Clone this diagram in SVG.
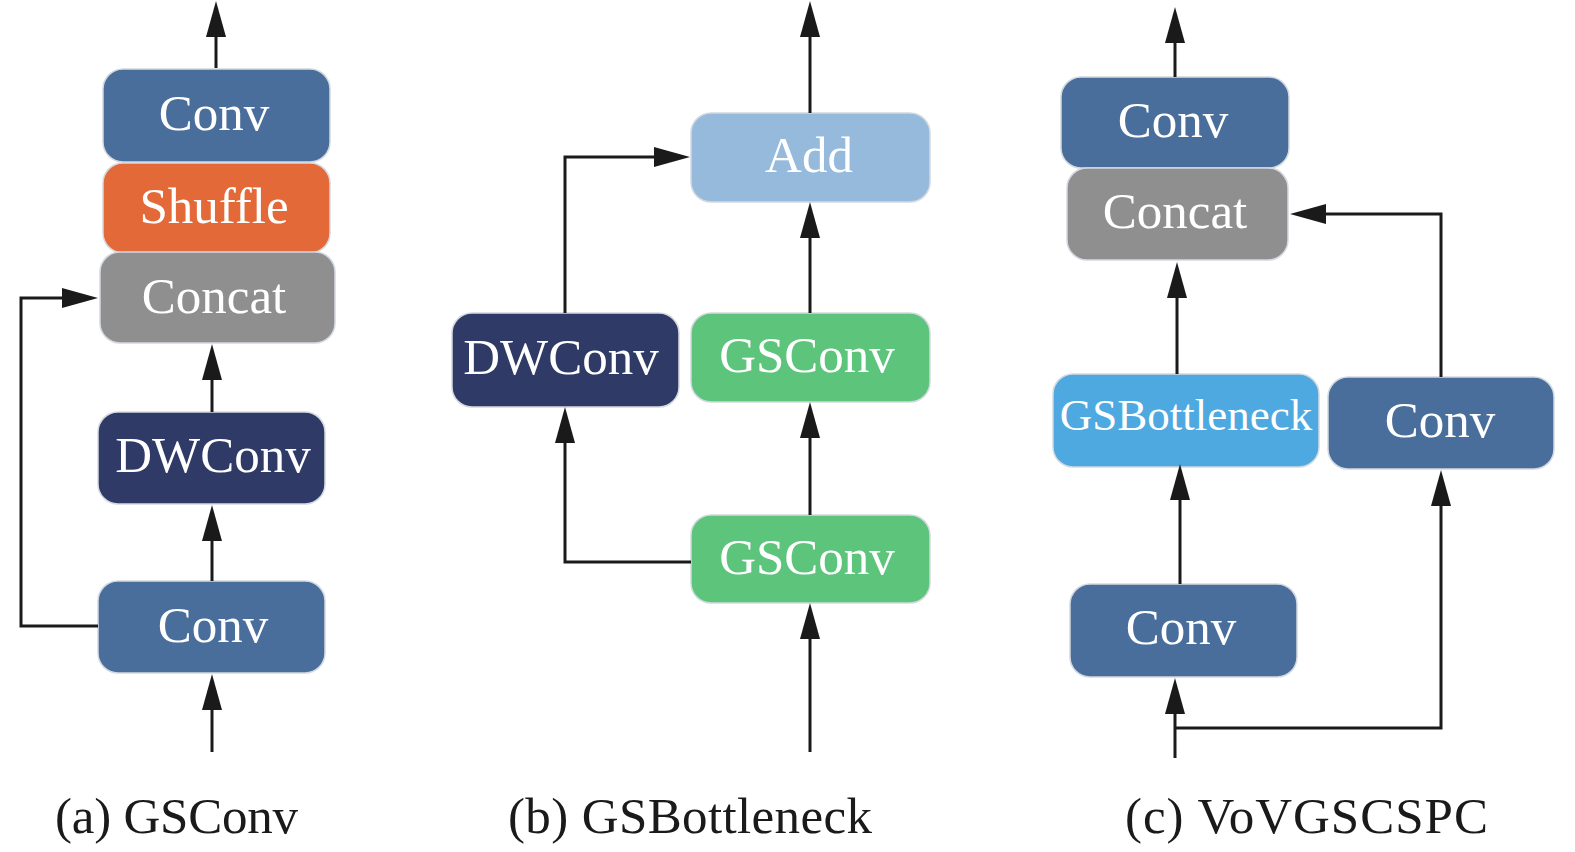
<svg xmlns="http://www.w3.org/2000/svg" width="1575" height="852" viewBox="0 0 1575 852">
<style>
.box{stroke:#d3d9e0;stroke-width:1.5}
.conv{fill:#4a6e9b}
.shuffle{fill:#e36a38}
.concat{fill:#908f90}
.dw{fill:#2f3a66}
.add{fill:#95badc}
.gs{fill:#5cc47b}
.gsb{fill:#4ea9e0}
.lbl{font-family:"Liberation Serif","Times New Roman",serif;font-size:51px;fill:#ffffff;text-anchor:middle}
.cap{font-family:"Liberation Serif","Times New Roman",serif;font-size:51px;fill:#1a1a1a}
.wire{fill:none;stroke:#1a1a1a;stroke-width:3;marker-end:url(#arr)}
</style>
<defs>
<marker id="arr" markerUnits="userSpaceOnUse" markerWidth="36" markerHeight="20" refX="0" refY="10" orient="auto" overflow="visible">
<path d="M0,0 L36,10 L0,20 z" fill="#1a1a1a"/>
</marker>
</defs>
<rect width="1575" height="852" fill="#ffffff"/>

<g id="a_conv_top"><rect class="box conv" x="103" y="69" width="227" height="93" rx="20"/><text class="lbl" x="214" y="130">Conv</text></g>
<g id="a_shuffle"><rect class="box shuffle" x="103" y="163" width="227" height="90" rx="20"/><text class="lbl" x="214" y="223">Shuffle</text></g>
<g id="a_concat"><rect class="box concat" x="100" y="252" width="235" height="91" rx="20"/><text class="lbl" x="214" y="313">Concat</text></g>
<g id="a_dwconv"><rect class="box dw" x="98" y="412" width="227" height="92" rx="20"/><text class="lbl" x="213" y="472">DWConv</text></g>
<g id="a_conv_bot"><rect class="box conv" x="98" y="581" width="227" height="92" rx="20"/><text class="lbl" x="213" y="642">Conv</text></g>

<g id="b_add"><rect class="box add" x="691" y="113" width="239" height="89" rx="20"/><text class="lbl" x="809" y="172">Add</text></g>
<g id="b_dwconv"><rect class="box dw" x="452" y="313" width="227" height="94" rx="20"/><text class="lbl" x="561" y="374">DWConv</text></g>
<g id="b_gsconv1"><rect class="box gs" x="691" y="313" width="239" height="89" rx="20"/><text class="lbl" x="807" y="372">GSConv</text></g>
<g id="b_gsconv2"><rect class="box gs" x="691" y="515" width="239" height="88" rx="20"/><text class="lbl" x="807" y="574">GSConv</text></g>

<g id="c_conv_top"><rect class="box conv" x="1061" y="77" width="228" height="91" rx="20"/><text class="lbl" x="1173" y="137">Conv</text></g>
<g id="c_concat"><rect class="box concat" x="1067" y="168" width="221" height="92" rx="20"/><text class="lbl" x="1175" y="228">Concat</text></g>
<g id="c_gsb"><rect class="box gsb" x="1053" y="374" width="266" height="93" rx="20"/><text class="lbl" x="1186" y="430" style="font-size:45px">GSBottleneck</text></g>
<g id="c_conv_r"><rect class="box conv" x="1328" y="377" width="226" height="92" rx="20"/><text class="lbl" x="1440" y="437">Conv</text></g>
<g id="c_conv_bot"><rect class="box conv" x="1070" y="584" width="227" height="93" rx="20"/><text class="lbl" x="1181" y="644">Conv</text></g>

<g id="connectors">
<path class="wire" d="M216,68 V37"/>
<path class="wire" d="M212,412 V380"/>
<path class="wire" d="M212,581 V541"/>
<path class="wire" d="M212,752 V710"/>
<path class="wire" d="M98,626 H21 V298 H62"/>

<path class="wire" d="M810,113 V37"/>
<path class="wire" d="M810,313 V238"/>
<path class="wire" d="M810,515 V438"/>
<path class="wire" d="M810,752 V639"/>
<path class="wire" d="M565,313 V157 H654"/>
<path class="wire" d="M691,562 H565 V443"/>

<path class="wire" d="M1175,77 V43"/>
<path class="wire" d="M1177,374 V298"/>
<path class="wire" d="M1180,584 V500"/>
<path class="wire" d="M1441,377 V214 H1326"/>
<path class="wire" d="M1175,758 V714"/>
<path class="wire" d="M1175,728 H1441 V506"/>
</g>

<g id="captions">
<text class="cap" x="55" y="833" textLength="243" lengthAdjust="spacing">(a) GSConv</text>
<text class="cap" x="508" y="833" textLength="364" lengthAdjust="spacing">(b) GSBottleneck</text>
<text class="cap" x="1125" y="833" textLength="363" lengthAdjust="spacing">(c) VoVGSCSPC</text>
</g>
</svg>
